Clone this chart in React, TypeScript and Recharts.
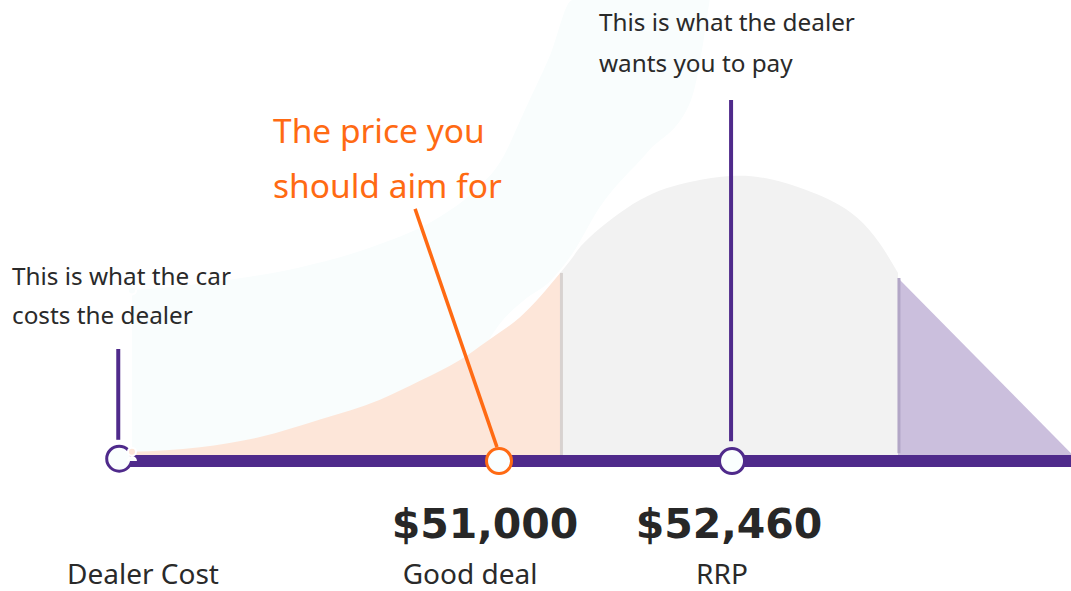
import {
  ComposedChart,
  Area,
  XAxis,
  YAxis,
  ReferenceLine,
  ReferenceDot,
} from 'recharts';

// x values are prices in dollars, y values are a relative height (0-100)
const X_MIN = 47873;
const X_MAX = 54584;

// faint background band
const faintX = [48700, 49250, 49750, 50250, 50630, 50860, 51010, 51160, 51320, 51460, 51630, 51930, 52200, 52320];
const faintLow = [0, 0, 0, 0, 10, 22, 30, 35, 39, 45, 55, 67, 78, 100];
const faintHigh = [37, 39, 42, 47, 53, 59, 65, 76, 88, 100, 100, 100, 100, 100];

// "good deal" zone
const peachX = [48700, 49126, 49502, 49878, 50254, 50505, 50755, 50925, 51131, 51383];
const peachV = [2.0, 3.0, 5.2, 9.0, 13.3, 17.4, 21.9, 26.0, 31.2, 40.8];

// dealer's target zone
const domeX = [51383, 51464, 51570, 51883, 52197, 52454, 52717, 53030, 53243, 53387, 53500];
const domeV = [40.8, 44.3, 48.6, 56.6, 60.5, 61.8, 61.0, 57.3, 52.8, 47.1, 40.8];

// over RRP
const overX = [53500, 54584];
const overV = [39.7, 1.7];

const dealerCost = 48620;
const goodDeal = 51000;
const rrp = 52460;

const fmt = (n: number) => '$' + n.toLocaleString('en-US');

const PURPLE = '#4f2a8b';
const ORANGE = '#ff6a13';
const INK = '#2a2a2a';

const buildRows = () => {
  const xs = Array.from(new Set([...faintX, ...peachX, ...domeX, ...overX])).sort((a, b) => a - b);
  return xs.map((x) => {
    const fi = faintX.indexOf(x);
    const pi = peachX.indexOf(x);
    const di = domeX.indexOf(x);
    const oi = overX.indexOf(x);
    return {
      x,
      faint: fi >= 0 ? [faintLow[fi], faintHigh[fi]] : null,
      peach: pi >= 0 ? peachV[pi] : null,
      dome: di >= 0 ? domeV[di] : null,
      over: oi >= 0 ? overV[oi] : null,
    };
  });
};

const rows = buildRows();

const App = () => {
  return (
    <div style={{ position: 'relative', width: 1071, height: 591, background: '#fff', overflow: 'hidden' }}>
      <style>{`body{margin:0}`}</style>
      <ComposedChart
        width={1071}
        height={591}
        data={rows}
        margin={{ top: 0, right: 0, left: 0, bottom: 130 }}
      >
        <XAxis type="number" dataKey="x" domain={[X_MIN, X_MAX]} hide allowDataOverflow />
        <YAxis type="number" domain={[0, 100]} hide allowDataOverflow />

        <Area
          dataKey="faint"
          type="monotone"
          stroke="none"
          fill="#f9fdfd"
          fillOpacity={1}
          isAnimationActive={false}
          connectNulls
        />
        <Area
          dataKey="peach"
          type="monotone"
          stroke="none"
          fill="#fde6d9"
          fillOpacity={1}
          isAnimationActive={false}
          connectNulls
        />
        <Area
          dataKey="dome"
          type="natural"
          stroke="none"
          fill="#f2f2f2"
          fillOpacity={1}
          isAnimationActive={false}
          connectNulls
        />
        <Area
          dataKey="over"
          type="linear"
          stroke="none"
          fill="#cbbfdd"
          fillOpacity={1}
          isAnimationActive={false}
          connectNulls
        />

        {/* zone edges */}
        <ReferenceLine
          segment={[{ x: peachX[peachX.length - 1] + 8, y: 0.9 }, { x: peachX[peachX.length - 1] + 8, y: peachV[peachV.length - 1] }]}
          stroke="#d8d2d0"
          strokeWidth={3}
        />
        <ReferenceLine
          segment={[{ x: overX[0] + 6, y: 1.7 }, { x: overX[0] + 6, y: overV[0] }]}
          stroke="#b2a6c6"
          strokeWidth={3}
        />

        {/* price bar */}
        <ReferenceLine
          segment={[{ x: dealerCost, y: 0 }, { x: X_MAX, y: 0 }]}
          stroke={PURPLE}
          strokeWidth={12}
        />

        {/* callout lines */}
        <ReferenceLine
          segment={[{ x: dealerCost - 6, y: 4.6 }, { x: dealerCost - 6, y: 24.3 }]}
          stroke={PURPLE}
          strokeWidth={4}
        />
        <ReferenceLine
          segment={[{ x: rrp - 6, y: 4.3 }, { x: rrp - 6, y: 78.3 }]}
          stroke={PURPLE}
          strokeWidth={4}
        />
        <ReferenceLine
          segment={[{ x: 50474, y: 54.7 }, { x: goodDeal - 13, y: 3.0 }]}
          stroke={ORANGE}
          strokeWidth={3.5}
        />

        <ReferenceDot x={dealerCost} y={0.5} r={12.5} fill="#fafefe" stroke={PURPLE} strokeWidth={3} />
        <ReferenceDot x={goodDeal} y={0} r={12.5} fill="#fafefe" stroke={ORANGE} strokeWidth={3} />
        <ReferenceDot x={rrp} y={0} r={12.5} fill="#fafefe" stroke={PURPLE} strokeWidth={3} />
      </ComposedChart>

      <svg
        width={1071}
        height={591}
        style={{ position: 'absolute', left: 0, top: 0, pointerEvents: 'none' }}
      >
        <g fontFamily="'Noto Sans', sans-serif" fill={INK} fontSize={24.3}>
          <text x={599} y={31}>This is what the dealer</text>
          <text x={599} y={72}>wants you to pay</text>
          <text x={12} y={285}>This is what the car</text>
          <text x={12} y={324}>costs the dealer</text>
        </g>
        <g fontFamily="'Noto Sans', sans-serif" fill={ORANGE} fontSize={33.5}>
          <text x={273} y={143}>The price you</text>
          <text x={273} y={198}>should aim for</text>
        </g>
        <g fontFamily="'DejaVu Sans', sans-serif" fontWeight="bold" fill="#272727" fontSize={41} textAnchor="middle">
          <text x={485} y={538}>{fmt(goodDeal)}</text>
          <text x={729} y={538}>{fmt(rrp)}</text>
        </g>
        <g fontFamily="'Noto Sans', sans-serif" fill={INK} fontSize={28} textAnchor="middle">
          <text x={143} y={584}>Dealer Cost</text>
          <text x={470} y={584}>Good deal</text>
          <text x={722} y={584}>RRP</text>
        </g>
      </svg>
    </div>
  );
};

export default App;
